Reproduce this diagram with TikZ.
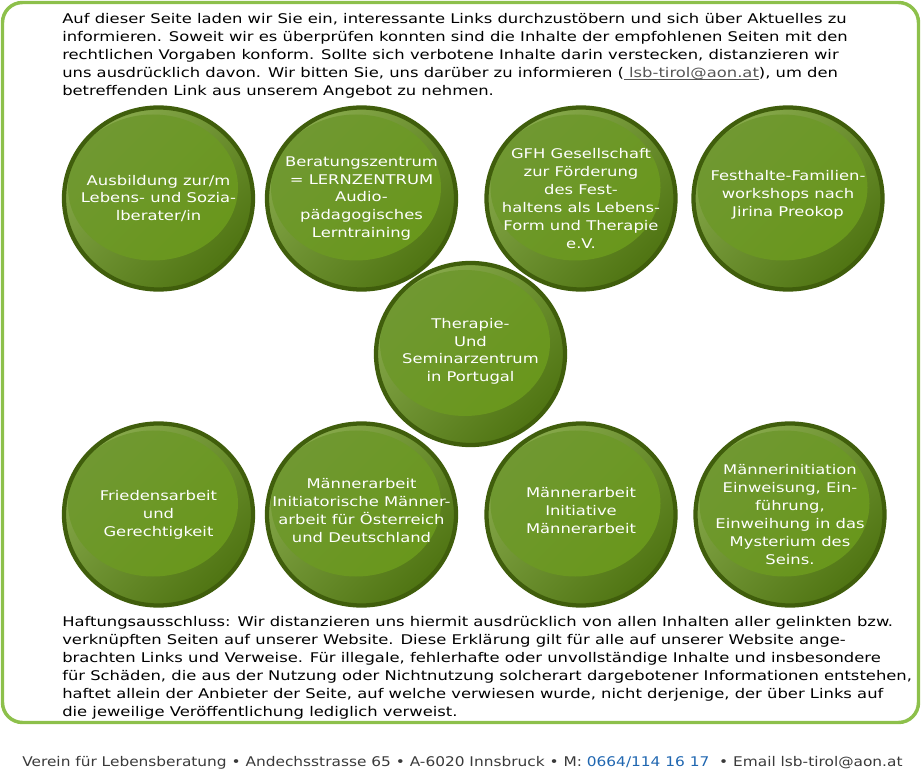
\documentclass[tikz,border=0pt]{standalone}
\usepackage{fontspec}
\setmainfont{DejaVu Sans}[FakeStretch=1.228]
\newfontfamily\fussfamilie{DejaVu Sans}[FakeStretch=1.153]
\usepackage{tikz}
\usetikzlibrary{shapes.geometric}

\definecolor{rahmengruen}{HTML}{8DC04B}
\definecolor{randgruen}{HTML}{405E0C}
\definecolor{hellgruen}{HTML}{88AA4C}
\definecolor{mittelgruen}{HTML}{5C8615}
\definecolor{dunkelgruen}{HTML}{4F7412}
\definecolor{glanzhell}{HTML}{709832}
\definecolor{glanzmitte}{HTML}{5D8915}
\definecolor{glanzunten}{HTML}{689718}
\definecolor{textgrau}{HTML}{3A3A3A}
\definecolor{linkgrau}{HTML}{555555}
\definecolor{telblau}{HTML}{1F66B0}

\newcommand{\knopfschrift}{\fontsize{10pt}{13.4pt}\selectfont}
\newcommand{\absatzschrift}{\fontsize{10pt}{13.5pt}\selectfont}
\newcommand{\linkstrich}[1]{\setbox0\hbox{#1}\rlap{\rule[-1.3pt]{\wd0}{0.6pt}}\box0}

\begin{document}
\begin{tikzpicture}[x=0.75pt,y=-0.75pt,
  knopf/.style={ellipse, draw=randgruen, line width=3.2pt, inner sep=0pt,
    minimum width=141.75pt, minimum height=136.5pt,
    top color=hellgruen, middle color=mittelgruen, bottom color=dunkelgruen, shading angle=45,
    path picture={\shade[top color=glanzhell, middle color=glanzmitte, bottom color=glanzunten, shading angle=45]
      ([shift={(-5.5,-11)}]path picture bounding box.center) ellipse [x radius=63.75pt, y radius=54.75pt];}},
  knopftext/.style={text=white, align=center, font=\knopfschrift},
  absatz/.style={anchor=base west, align=left, font=\absatzschrift}]
\tikzstyle{every node}+=[inner sep=0pt]
\useasboundingbox (0,0) rectangle (921,773);
% Rahmen
\draw [rahmengruen, line width=2.6pt, rounded corners=15pt] (2.5,2.5) rectangle (918.5,722.5);
% Einleitung (Anker: Grundlinie der letzten Zeile)
\node [absatz] (einleitung) at (62,96) {Auf dieser Seite laden wir Sie ein, interessante Links durchzustöbern und sich über Aktuelles zu\\
informieren. Soweit wir es überprüfen konnten sind die Inhalte der empfohlenen Seiten mit den\\
rechtlichen Vorgaben konform. Sollte sich verbotene Inhalte darin verstecken, distanzieren wir\\
uns ausdrücklich davon. Wir bitten Sie, uns darüber zu informieren ({\color{linkgrau}\linkstrich{\ lsb-tirol@aon.at}}), um den\\
betreffenden Link aus unserem Angebot zu nehmen.};
% obere Reihe
\node [knopf] (ausbildung) at (158.5,198.5) {};
\node [knopftext] (ausbildung text) at (ausbildung) {Ausbildung zur/m\\Lebens- und Sozia-\\lberater/in};
\node [knopf] (beratung) at (361.5,198.5) {};
\node [knopftext] (beratung text) at (beratung) {Beratungszentrum\\= LERNZENTRUM\\Audio-\\pädagogisches\\Lerntraining};
\node [knopf] (gfh) at (581,198.5) {};
\node [knopftext] (gfh text) at (gfh) {GFH Gesellschaft\\zur Förderung\\des Fest-\\haltens als Lebens-\\Form und Therapie\\e.V.};
\node [knopf] (festhalte) at (788,198.5) {};
\node [knopftext] (festhalte text) at ([yshift=3pt]festhalte) {Festhalte-Familien-\\workshops nach\\Jirina Preokop};
% Mitte
\node [knopf] (portugal) at (470.5,354) {};
\node [knopftext] (portugal text) at ([yshift=2pt]portugal) {Therapie-\\Und\\Seminarzentrum\\in Portugal};
% untere Reihe
\node [knopf] (frieden) at (158.5,514.5) {};
\node [knopftext] (frieden text) at (frieden) {Friedensarbeit\\und\\Gerechtigkeit};
\node [knopf] (maenner) at (361.5,514.5) {};
\node [knopftext] (maenner text) at ([yshift=3pt]maenner) {Männerarbeit\\Initiatorische Männer-\\arbeit für Österreich\\und Deutschland};
\node [knopf] (initiative) at (581,514.5) {};
\node [knopftext] (initiative text) at ([yshift=3pt]initiative) {Männerarbeit\\Initiative\\Männerarbeit};
\node [knopf] (initiation) at (790,514.5) {};
\node [knopftext] (initiation text) at (initiation) {Männerinitiation\\Einweisung, Ein-\\führung,\\Einweihung in das\\Mysterium des\\Seins.};
% Haftung (Anker: Grundlinie der letzten Zeile)
\node [absatz] (haftung) at (62,716) {Haftungsausschluss: Wir distanzieren uns hiermit ausdrücklich von allen Inhalten aller gelinkten bzw.\\
verknüpften Seiten auf unserer Website. Diese Erklärung gilt für alle auf unserer Website ange-\\
brachten Links und Verweise. Für illegale, fehlerhafte oder unvollständige Inhalte und insbesondere\\
für Schäden, die aus der Nutzung oder Nichtnutzung solcherart dargebotener Informationen entstehen,\\
haftet allein der Anbieter der Seite, auf welche verwiesen wurde, nicht derjenige, der über Links auf\\
die jeweilige Veröffentlichung lediglich verweist.};
% Fusszeile
\node [absatz, text=textgrau, font=\fussfamilie\absatzschrift] (fusszeile) at (22,766) {Verein für Lebensberatung • Andechsstrasse 65 • A-6020 Innsbruck • M: {\color{telblau}0664/114 16 17}\ \ • Email lsb-tirol@aon.at};
\end{tikzpicture}
\end{document}
